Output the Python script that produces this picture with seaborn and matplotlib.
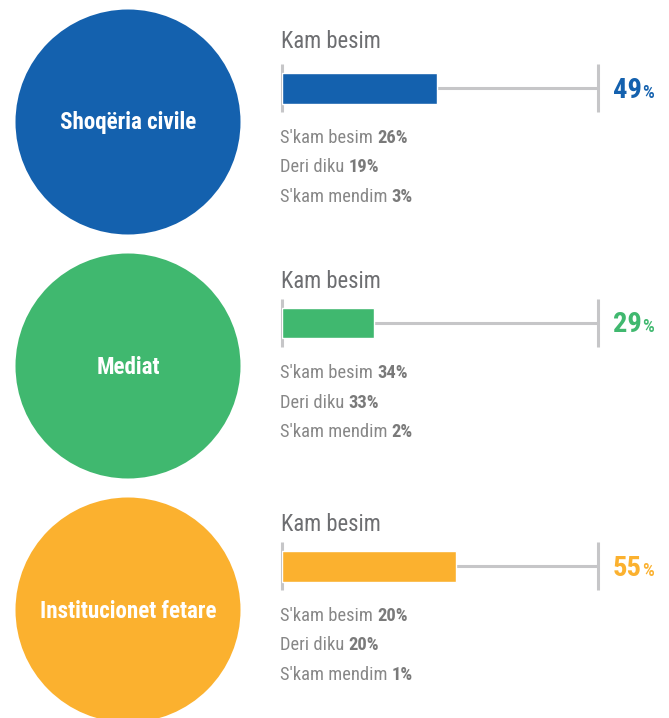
import matplotlib
matplotlib.use("Agg")
import matplotlib.pyplot as plt
from matplotlib.patches import Circle
import seaborn as sns
import pandas as pd

# ---- data ----
categories = ["Shoqëria civile", "Mediat", "Institucionet fetare"]
kam_besim = [49, 29, 55]
skam_besim = [26, 34, 20]
deri_diku = [19, 33, 20]
skam_mendim = [3, 2, 1]
colors = ["#1461AE", "#40B86F", "#FBB12F"]
bar_title = "Kam besim"
sub_labels = ["S'kam besim", "Deri diku", "S'kam mendim"]

sns.set_theme(style="white")
plt.rcParams["font.family"] = ["Roboto Condensed", "DejaVu Sans"]

W, H = 669, 718
fig = plt.figure(figsize=(W / 100, H / 100), dpi=100)
fig.patch.set_facecolor("white")

def fx(x):
    return x / W

def fy(y):
    return 1 - y / H

bg = fig.add_axes([0, 0, 1, 1])
bg.set_xlim(0, W)
bg.set_ylim(H, 0)
bg.axis("off")

circle_cy = [122, 366, 610]
bar_cy = [88, 323, 566]
title_cy = [40, 280, 523]
GRAY = "#C6C6C8"
TXT = "#878787"

renderer = fig.canvas.get_renderer()

def joined_text(x, y, parts, **common):
    cur = x
    for s, kw in parts:
        t = fig.text(fx(cur), fy(y), s, va="baseline", ha="left", **common, **kw)
        bb = t.get_window_extent(renderer=renderer)
        cur += bb.width

for i, cat in enumerate(categories):
    col = colors[i]
    bg.add_patch(Circle((128, circle_cy[i]), 112.5, color=col, lw=0))
    bg.text(128, circle_cy[i] + 1, cat, color="white", fontsize=16.6,
            fontweight="bold", ha="center", va="center")

    left, right = 282, 598
    top = bar_cy[i] - 24
    ax = fig.add_axes([fx(left), fy(top + 48), (right - left) / W, 48 / H])
    df = pd.DataFrame({"cat": [cat], "val": [kam_besim[i]]})
    ax.hlines(0, 0, 100, color=GRAY, lw=2.2, zorder=1)
    ax.vlines([0, 100], -0.5, 0.5, color=GRAY, lw=2.2, zorder=1, clip_on=False)
    sns.barplot(data=df, x="val", y="cat", orient="h", color=col, width=31 / 48,
                saturation=1, ax=ax, zorder=2)
    ax.set_xlim(0, 100)
    ax.set_ylim(0.5, -0.5)
    ax.axis("off")

    fig.text(fx(281), fy(title_cy[i] + 8), bar_title, fontsize=16.3, color="#6D6E71",
             ha="left", va="baseline")

    joined_text(613, bar_cy[i] + 9.5,
                [(f"{kam_besim[i]}", dict(fontsize=20.5, fontweight="bold")),
                 ("%", dict(fontsize=13.5, fontweight="medium"))], color=col)

    vals = [skam_besim[i], deri_diku[i], skam_mendim[i]]
    for j, (lab, v) in enumerate(zip(sub_labels, vals)):
        ybase = bar_cy[i] + 55 + j * 29.5
        joined_text(280, ybase,
                    [(lab + " ", dict(fontsize=13.3, color=TXT)),
                     (f"{v}%", dict(fontsize=13.3, color="#7A7A7A", fontweight="bold"))])

fig.savefig("out.png", dpi=100, facecolor="white")
